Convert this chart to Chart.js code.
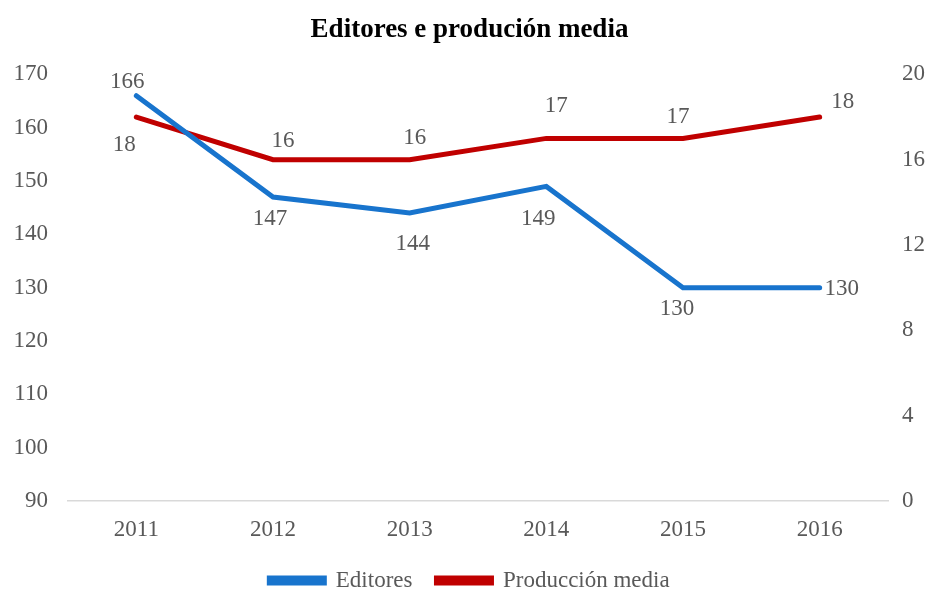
<!DOCTYPE html>
<html><head><meta charset="utf-8">
<script src="https://cdn.jsdelivr.net/npm/chart.js@4"></script>
<style>html,body{margin:0;padding:0;background:#fff}#w{width:939px;height:592px}</style>
</head><body><div id="w"><canvas id="c"></canvas></div>
<script>
const years = ['2011','2012','2013','2014','2015','2016'];
const editores = [166,147,144,149,130,130];
const produccion = [18,16,16,17,17,18];
// label placement offsets (pixels, relative to the point) — style only
const editoresLabelOffset = [[-9,-14],[-3,22],[3,31],[-8,33],[-6,21],[22,1]];
const produccionLabelOffset = [[-12,28],[10,-19],[5,-22],[10,-32],[-5,-21],[23,-15]];

const FONT = "'Liberation Serif', 'Times New Roman', serif";
const GREY = '#595959';

const labelPlugin = {
  id: 'lbl',
  afterDatasetsDraw(chart) {
    const ctx = chart.ctx;
    ctx.save();
    ctx.font = '23px ' + FONT;
    ctx.fillStyle = GREY;
    ctx.textAlign = 'center';
    ctx.textBaseline = 'middle';
    chart.data.datasets.forEach((ds, i) => {
      const meta = chart.getDatasetMeta(i);
      meta.data.forEach((pt, j) => {
        const o = ds.labelOffset[j];
        ctx.fillText(String(ds.data[j]), pt.x + o[0], pt.y + o[1]);
      });
    });
    ctx.restore();
  }
};

new Chart(document.getElementById('c'), {
  type: 'line',
  data: {
    labels: years,
    datasets: [
      { label: 'Editores', data: editores, labelOffset: editoresLabelOffset, yAxisID: 'y',
        borderColor: '#1874CD', backgroundColor: '#1874CD', borderWidth: 5, pointRadius: 0, tension: 0, borderCapStyle: 'round' },
      { label: 'Producción media', data: produccion, labelOffset: produccionLabelOffset, yAxisID: 'y2',
        borderColor: '#C00000', backgroundColor: '#C00000', borderWidth: 5, pointRadius: 0, tension: 0, borderCapStyle: 'round' }
    ]
  },
  options: {
    responsive: true, maintainAspectRatio: false, animation: false,
    layout: { padding: { top: 0, left: 0, right: 0, bottom: -10 } },
    scales: {
      x: { offset: true,
        grid: { display: false, drawTicks: false },
        border: { display: true, color: '#D9D9D9', width: 1.5 },
        ticks: { color: GREY, font: { family: FONT, size: 23 }, padding: 15 },
        afterFit(s) { s.height = 44; } },
      y: { position: 'left', min: 90, max: 170,
        grid: { display: false, drawTicks: false }, border: { display: false },
        ticks: { stepSize: 10, color: GREY, font: { family: FONT, size: 23 }, padding: 20 },
        afterFit(s) { s.width = 68; } },
      y2: { position: 'right', min: 0, max: 20,
        grid: { display: false, drawTicks: false }, border: { display: false },
        ticks: { stepSize: 4, color: GREY, font: { family: FONT, size: 23 }, padding: 14 },
        afterFit(s) { s.width = 51; } }
    },
    plugins: {
      title: { display: true, text: 'Editores e produción media', color: '#000',
        font: { family: FONT, size: 27, weight: 'bold' }, padding: { top: 14, bottom: 28 } },
      legend: { position: 'bottom',
        labels: { color: GREY, font: { family: FONT, size: 23 }, boxWidth: 55, boxHeight: 5, padding: 24 } },
      tooltip: { enabled: false }
    }
  },
  plugins: [labelPlugin]
});
</script></body></html>
